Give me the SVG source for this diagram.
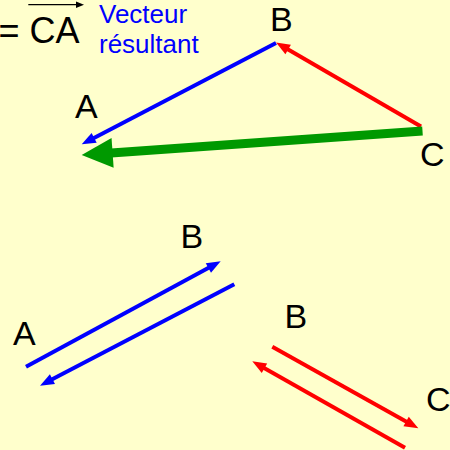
<svg xmlns="http://www.w3.org/2000/svg" width="450" height="450" viewBox="0 0 450 450">
<defs>
<style>
.lbl{font-family:"Liberation Sans",Arial,sans-serif;font-size:34px;fill:#000}
.blue{stroke:#0000FF;stroke-width:4;fill:none}
.red{stroke:#FF0000;stroke-width:4;fill:none}
.green{stroke:#009900;stroke-width:9;fill:none}
</style>
<marker id="ab" markerUnits="userSpaceOnUse" viewBox="-1 -7 16 14" markerWidth="16" markerHeight="14" refX="4" refY="0" orient="auto">
<path d="M0,-5.5 L14,0 L0,5.5 z" fill="#0000FF"/>
</marker>
<marker id="ar" markerUnits="userSpaceOnUse" viewBox="-1 -7 16 14" markerWidth="16" markerHeight="14" refX="4" refY="0" orient="auto">
<path d="M0,-5.5 L14,0 L0,5.5 z" fill="#FF0000"/>
</marker>
<marker id="ag" markerUnits="userSpaceOnUse" viewBox="-1 -16 33 32" markerWidth="33" markerHeight="32" refX="5" refY="0" orient="auto">
<path d="M0,-15 L31,0 L0,15 z" fill="#009900"/>
</marker>
<marker id="ak" markerUnits="userSpaceOnUse" viewBox="-1 -4 10 8" markerWidth="10" markerHeight="8" refX="2" refY="0" orient="auto">
<path d="M0,-3.2 L8,0 L0,3.2 z" fill="#000"/>
</marker>
</defs>
<rect width="450" height="450" fill="#FFFFCC"/>
<g id="formula">
<text class="lbl" x="-1.5" y="42.7" style="font-size:36px">= CA</text>
<line x1="28.3" y1="4.7" x2="78" y2="4.7" stroke="#000" stroke-width="1.3" marker-end="url(#ak)"/>
</g>
<g id="caption">
<text x="99" y="22.7" style="font-family:'Liberation Sans',Arial,sans-serif;font-size:26px;fill:#0000FF">Vecteur</text>
<text x="99" y="52.7" style="font-family:'Liberation Sans',Arial,sans-serif;font-size:26px;fill:#0000FF">résultant</text>
</g>
<g id="connectors">
<line class="blue" x1="276" y1="43" x2="90.6" y2="139.7" marker-end="url(#ab)"/>
<line class="red" x1="421" y1="126.5" x2="284.7" y2="47.5" marker-end="url(#ar)"/>
<line class="green" x1="422.5" y1="131" x2="107.6" y2="153.2" marker-end="url(#ag)"/>
<line class="blue" x1="26" y1="366.7" x2="211.9" y2="266.1" marker-end="url(#ab)"/>
<line class="blue" x1="234.3" y1="284.3" x2="48.9" y2="381.1" marker-end="url(#ab)"/>
<line class="red" x1="272.3" y1="346.7" x2="409.6" y2="423.4" marker-end="url(#ar)"/>
<line class="red" x1="405" y1="447.7" x2="261" y2="366.2" marker-end="url(#ar)"/>
</g>
<g id="node-B-top"><text class="lbl" x="270" y="31">B</text></g>
<g id="node-A-top"><text class="lbl" x="75" y="118">A</text></g>
<g id="node-C-top"><text class="lbl" x="420" y="166">C</text></g>
<g id="node-B-left"><text class="lbl" x="180.5" y="248">B</text></g>
<g id="node-A-left"><text class="lbl" x="13" y="345">A</text></g>
<g id="node-B-right"><text class="lbl" x="284.5" y="328">B</text></g>
<g id="node-C-right"><text class="lbl" x="426" y="411">C</text></g>
</svg>
